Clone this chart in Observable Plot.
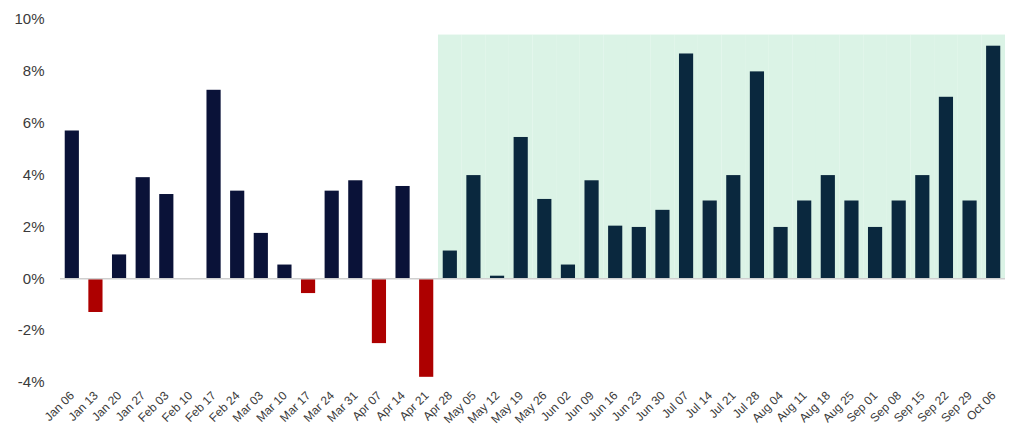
<!DOCTYPE html>
<html><head><meta charset="utf-8">
<script src="https://cdn.jsdelivr.net/npm/d3@7"></script>
<script src="https://cdn.jsdelivr.net/npm/@observablehq/plot@0.6"></script>
<style>body{margin:0;background:#fff;}</style>
</head><body><div id="chart"></div>
<script>
const weeks = ["Jan 06","Jan 13","Jan 20","Jan 27","Feb 03","Feb 10","Feb 17","Feb 24","Mar 03","Mar 10","Mar 17","Mar 24","Mar 31","Apr 07","Apr 14","Apr 21","Apr 28","May 05","May 12","May 19","May 26","Jun 02","Jun 09","Jun 16","Jun 23","Jun 30","Jul 07","Jul 14","Jul 21","Jul 28","Aug 04","Aug 11","Aug 18","Aug 25","Sep 01","Sep 08","Sep 15","Sep 22","Sep 29","Oct 06"];
const returns = [5.7,-1.3,0.92,3.9,3.25,0,7.27,3.38,1.75,0.53,-0.57,3.38,3.78,-2.5,3.56,-3.8,1.07,3.98,0.1,5.45,3.06,0.53,3.78,2.03,1.98,2.64,8.67,3.0,3.98,7.98,1.98,3.0,3.98,3.0,1.98,3.0,3.98,7.0,3.0,8.97];
const shadedFrom = "Apr 28";
const shadeTop = 9.4;
const yTicks = [-4,-2,0,2,4,6,8,10];

const startIdx = weeks.indexOf(shadedFrom);
const data = weeks.map((w,i)=>({week:w, value:returns[i], shaded: i >= startIdx}));
const shadeData = data.filter(d=>d.shaded);

const chart = Plot.plot({
  width:1024, height:441, marginTop:19, marginBottom:59, marginLeft:60, marginRight:19,
  style:{fontFamily:"'Liberation Sans', Arial, sans-serif", background:"#fff"},
  x:{domain:weeks, paddingInner:0.4, paddingOuter:0.2, round:false, label:null},
  y:{domain:[-4,10], label:null},
  color:{type:"identity"},
  marks:[
    Plot.barY(shadeData, {x:"week", y:() => shadeTop, fill:"#dbf3e6", insetLeft:-4.75, insetRight:-4.75}),
    Plot.barY(data, {x:"week", y:"value", fill: d => d.value < 0 ? "#ad0000" : d.shaded ? "#0a283e" : "#0a1238"}),
    Plot.ruleY([0], {stroke:"#cfcfcf", strokeWidth:1.5}),
    Plot.axisY({ticks:yTicks, tickFormat:d=>d+"%", tickSize:0, tickPadding:16, fontSize:15, fill:"#3a3a3a", label:null}),
    Plot.axisX({tickRotate:-45, tickSize:0, tickPadding:11, fontSize:12, fill:"#3a3a3a", label:null})
  ]
});
document.getElementById("chart").appendChild(chart);
</script>
</body></html>
